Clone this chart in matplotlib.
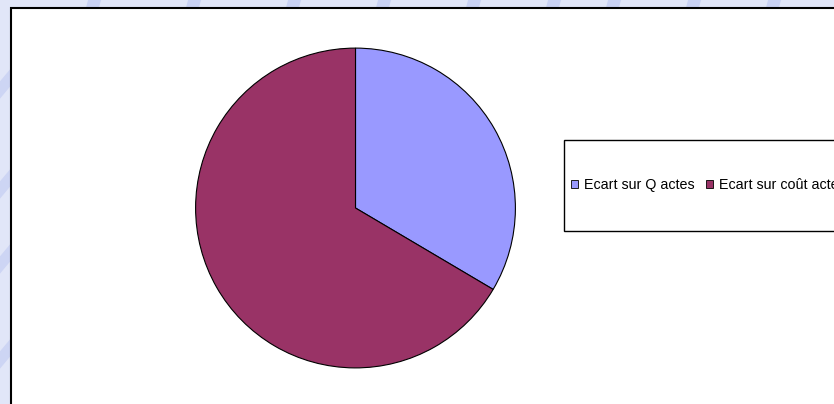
import matplotlib
matplotlib.use("Agg")
import matplotlib.pyplot as plt
import matplotlib.patches as patches
import numpy as np

plt.rcParams['font.family'] = ['Liberation Sans', 'DejaVu Sans']

labels = ['Ecart sur Q actes', 'Ecart sur coût actes']
values = [33.5, 66.5]
colors = ['#9999ff', '#993366']

W, H = 834, 404
fig = plt.figure(figsize=(W / 100, H / 100), dpi=100)
fig.patch.set_facecolor('#e1e6f8')

# faint diagonal strokes of the slide background
for x0 in [-60, 40, 140, 240, 330, 420, 500, 560, 640, 720, 800]:
    fig.add_artist(plt.Line2D([x0 / W, (x0 + 60) / W], [0.5, 1.05],
                              color='#c9d2f4', lw=9, zorder=0,
                              transform=fig.transFigure))
for y0 in [60, 160, 235, 330]:
    fig.add_artist(plt.Line2D([-0.01, 0.03], [1 - (y0 + 40) / H, 1 - y0 / H],
                              color='#cdd5f4', lw=8, zorder=0,
                              transform=fig.transFigure))

# white chart area, running off the right and bottom edges
fig.add_artist(patches.Rectangle((11 / W, -0.1), 1.2, 1.1 - 8 / H,
                                 transform=fig.transFigure, facecolor='white',
                                 edgecolor='black', lw=1.5, zorder=1))

# pie: centre (355, 208) px, radius 161 px
cx, cy, r = 355.5, 208, 161.5
ax = fig.add_axes([(cx - r) / W, (H - cy - r) / H, 2 * r / W, 2 * r / H])
ax.set_zorder(2)
ax.pie(values, colors=colors, startangle=90, counterclock=False,
       wedgeprops=dict(edgecolor='black', linewidth=0.8))
ax.set_xlim(-1.01, 1.01)
ax.set_ylim(-1.01, 1.01)
ax.set_aspect('auto')
ax.axis('off')

# legend box, also cut off at the right edge
fig.add_artist(patches.Rectangle((564 / W, 1 - 231 / H), 0.5, 91 / H,
                                 transform=fig.transFigure, facecolor='white',
                                 edgecolor='black', lw=1.0, zorder=3))
handles = [patches.Patch(facecolor=c, edgecolor='black', lw=0.6) for c in colors]
leg = fig.legend(handles, labels, ncol=2, loc='center left',
                 bbox_to_anchor=(571 / W, 1 - 185 / H), frameon=False,
                 fontsize=10.25, handlelength=0.5, handleheight=0.5,
                 handletextpad=0.4, columnspacing=0.8, borderpad=0,
                 borderaxespad=0)
leg.set_zorder(4)

fig.savefig('out.png', dpi=100, facecolor=fig.get_facecolor())
